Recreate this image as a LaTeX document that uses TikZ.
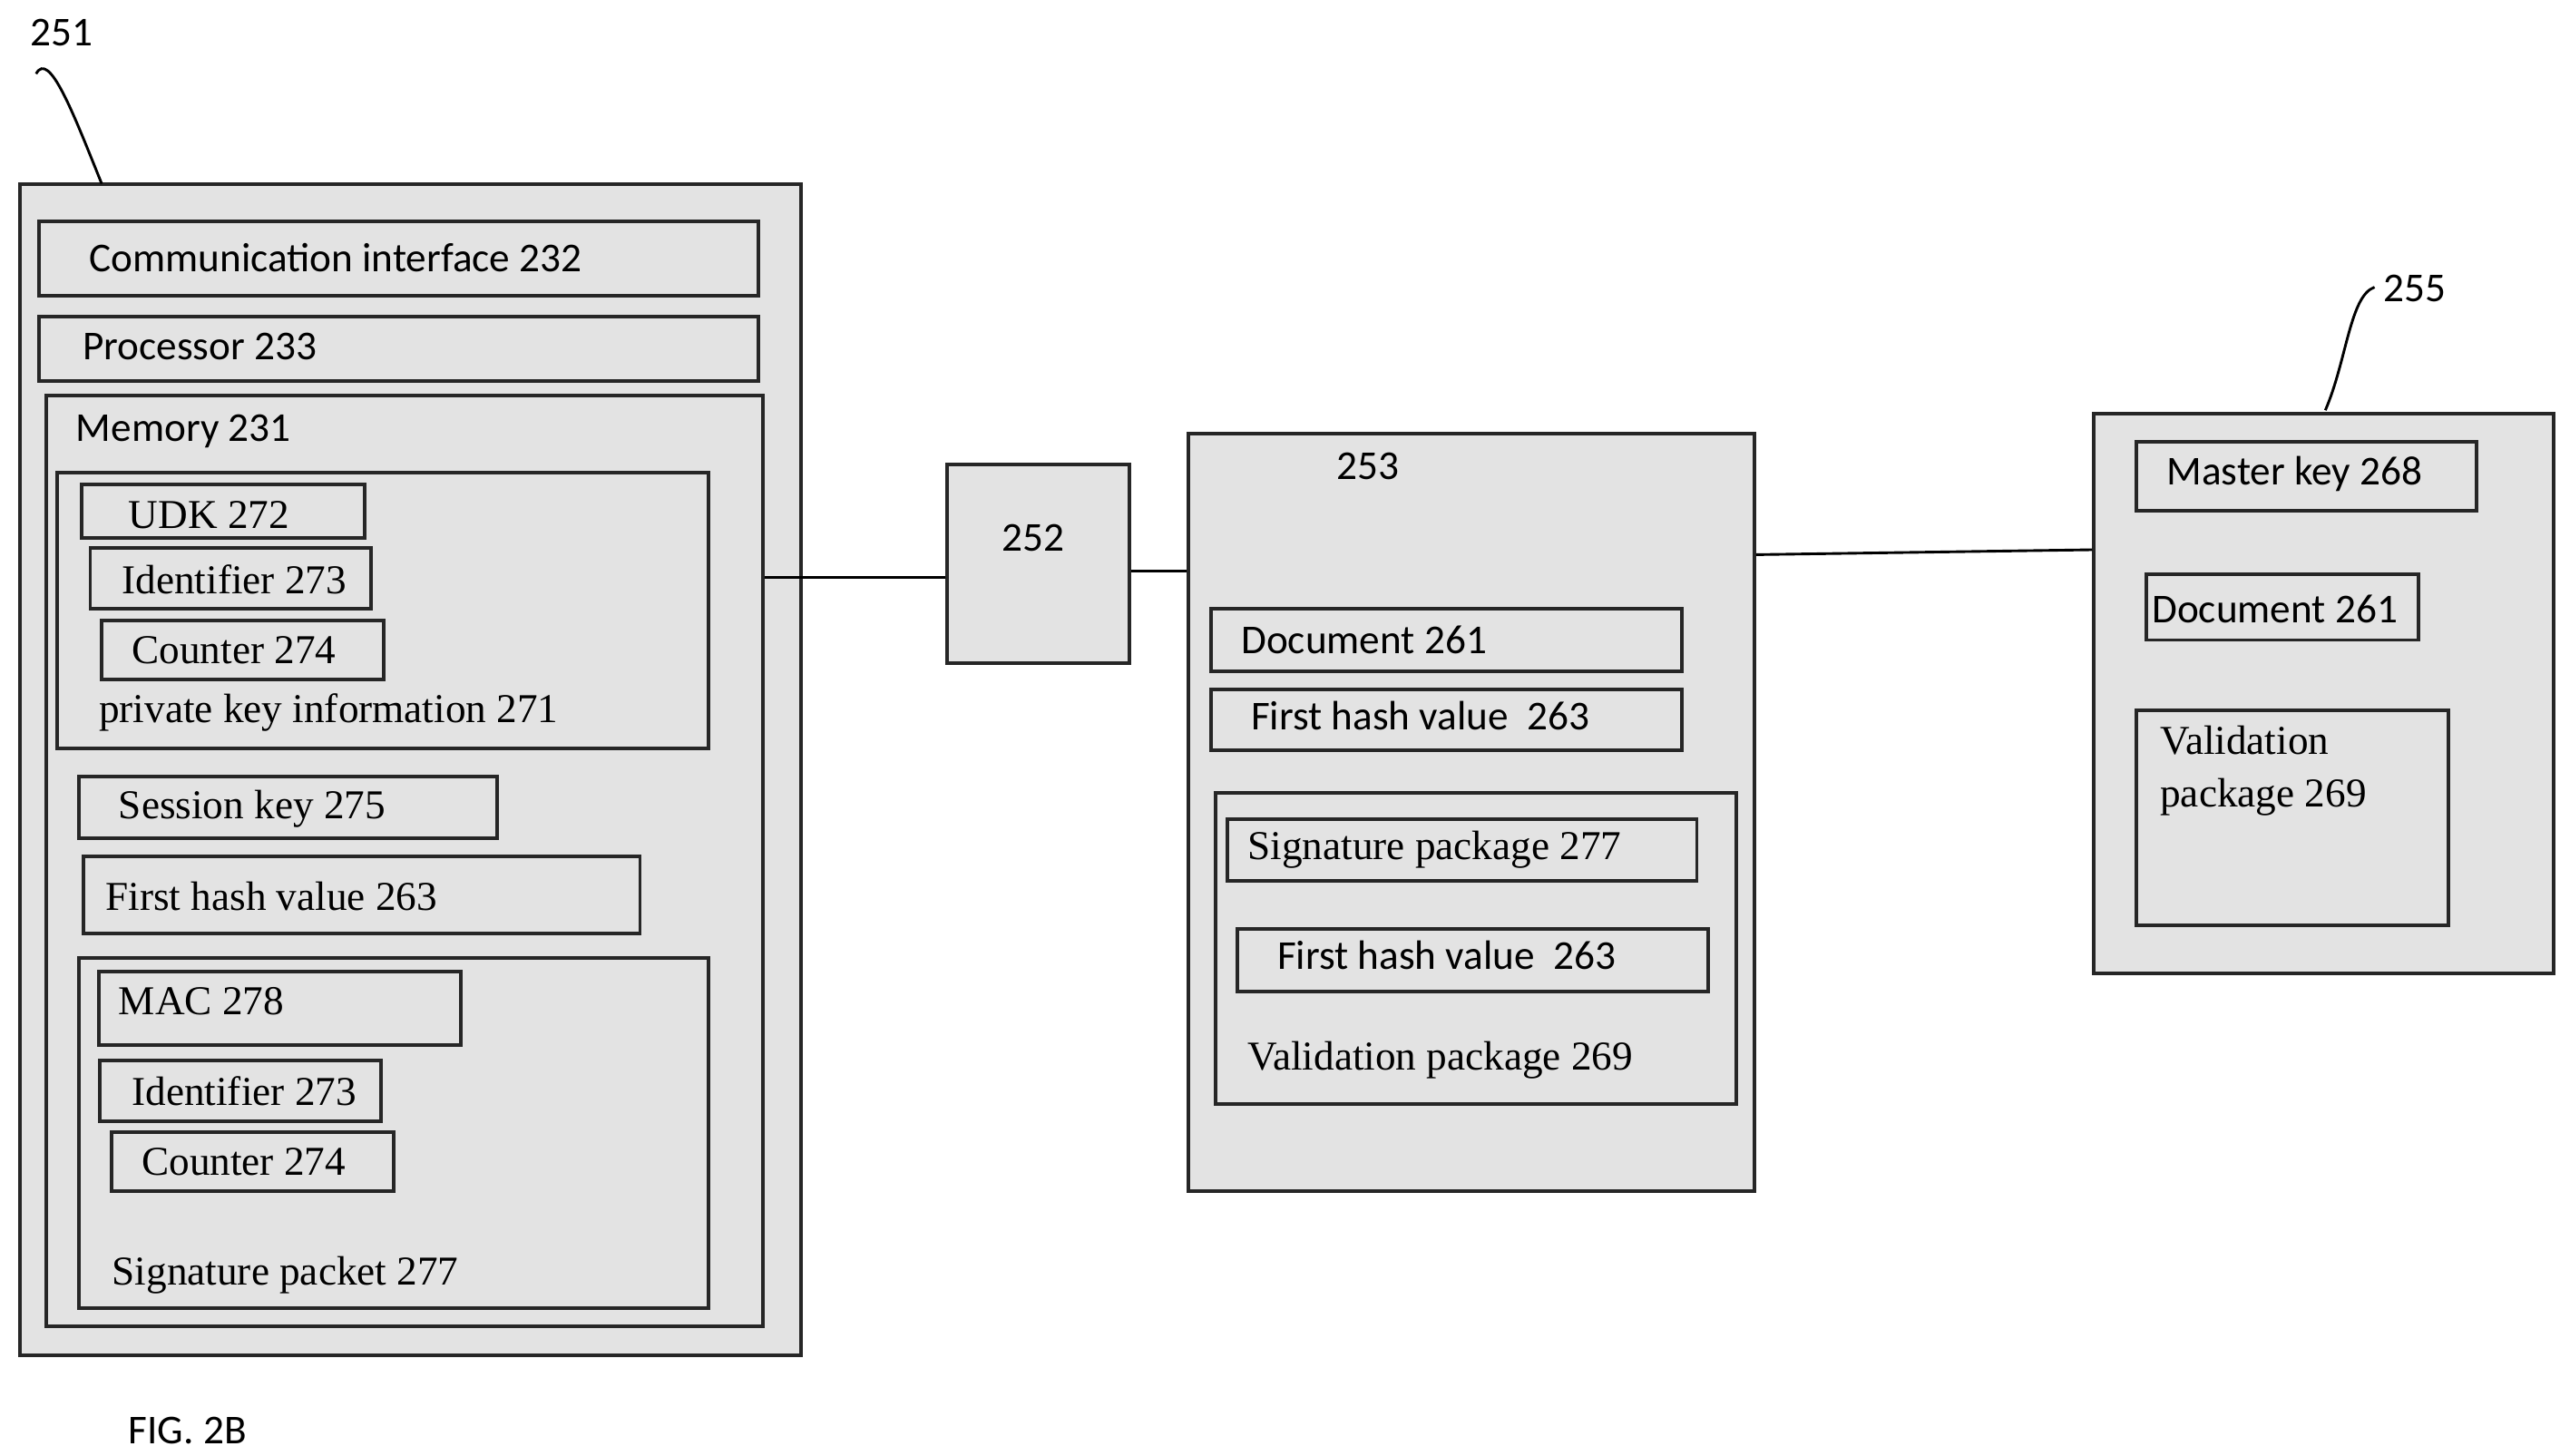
\documentclass[tikz,border=0pt]{standalone}
\usepackage{fontspec}
\setmainfont{Liberation Serif}
\newfontfamily\carf{Carlito}
\begin{document}
\begin{tikzpicture}[x=0.5pt,y=-0.5pt,
  box/.style={draw=black!85,line width=1.1pt,fill=gray!22,inner sep=0pt},
  st/.style={anchor=west,inner sep=0pt,font=\carf\fontsize{12.5}{14}\selectfont},
  rt/.style={anchor=west,inner sep=0pt,font=\fontsize{12.5}{14}\selectfont},
  ln/.style={line width=0.8pt}]
\useasboundingbox (0,0) rectangle (1560,887);
\newcommand\bx[5]{\node[box,minimum width={(#4-#2)*0.5pt},minimum height={(#5-#3)*0.5pt}] (#1) at ({(#2+#4)/2},{(#3+#5)/2}) {};}
% 251
\node[st] (l251) at (18,20) {251};
\coordinate (c251) at (22,45);
\bx{b251}{12}{112}{488}{826}
\draw[ln] (c251) .. controls (30,30) and (45,70) .. (62,112);
\bx{comm}{24}{135}{462}{180}\node[st] (tcomm) at (54,157) {Communication interface 232};
\bx{proc}{24}{193}{462}{232}\node[st] (tproc) at (50,211) {Processor 233};
\bx{mem}{28}{241}{465}{808}\node[st] (tmem) at (46,263) {Memory 231};
\bx{pk}{35}{288}{432}{456}\node[rt] (tpk) at (60,434) {private key information 271};
\bx{udk}{50}{295}{222}{328}\node[rt] (tudk) at (78,314) {UDK 272};
\bx{id1}{55}{334}{226}{371}\node[rt] (tid1) at (74,353) {Identifier 273};
\bx{ct1}{62}{378}{234}{414}\node[rt] (tct1) at (80,396) {Counter 274};
\bx{sk}{48}{473}{303}{511}\node[rt] (tsk) at (72,493) {Session key 275};
\bx{fh1}{51}{522}{390}{569}\node[rt] (tfh1) at (64,546) {First hash value 263};
\bx{sp}{48}{584}{432}{797}\node[rt] (tsp) at (68,777) {Signature packet 277};
\bx{mac}{60}{592}{281}{637}\node[rt] (tmac) at (72,610) {MAC 278};
\bx{id2}{61}{646}{232}{683}\node[rt] (tid2) at (80,665) {Identifier 273};
\bx{ct2}{68}{690}{240}{726}\node[rt] (tct2) at (86,708) {Counter 274};
% 252
\bx{b252}{577}{283}{688}{404}\node[st] (t252) at (610,328) {252};
% 253
\bx{b253}{724}{264}{1069}{726}\node[st] (t253) at (814,284) {253};
\bx{doc1}{738}{371}{1025}{409}\node[st] (tdoc1) at (756,390) {Document 261};
\bx{fh2}{738}{420}{1025}{457}\node[st] (tfh2) at (762,436) {First hash value\ \ 263};
\bx{vp}{741}{483}{1058}{673}\node[rt] (tvp) at (760,646) {Validation package 269};
\bx{sig}{748}{499}{1034}{537}\node[rt] (tsig) at (760,518) {Signature package 277};
\bx{fh3}{754}{566}{1041}{604}\node[st] (tfh3) at (778,582) {First hash value\ \ 263};
% 255
\bx{b255}{1276}{252}{1556}{593}
\node[st] (l255) at (1452,176) {255};
\coordinate (c255) at (1447,175);
\draw[ln] (c255) .. controls (1432,180) and (1430,220) .. (1417,250);
\bx{mk}{1302}{269}{1509}{311}\node[st] (tmk) at (1320,289) {Master key 268};
\bx{doc2}{1308}{350}{1474}{390}\node[st] (tdoc2) at (1311,371) {Document 261};
\bx{val}{1302}{433}{1492}{564}
\node[rt,anchor=north west,align=left,font=\fontsize{12.5}{16}\selectfont] (tval) at (1316,442) {Validation\\package 269};
\node[st] (fig) at (78,872) {FIG. 2B};
% connectors
\draw[ln] (mem.east|-0,352) -- (b252.west|-0,352);
\draw[ln] (b252.east|-0,348) -- (b253.west|-0,348);
\draw[ln] (b253.east|-0,338) -- (b255.west|-0,335);
\end{tikzpicture}
\end{document}
